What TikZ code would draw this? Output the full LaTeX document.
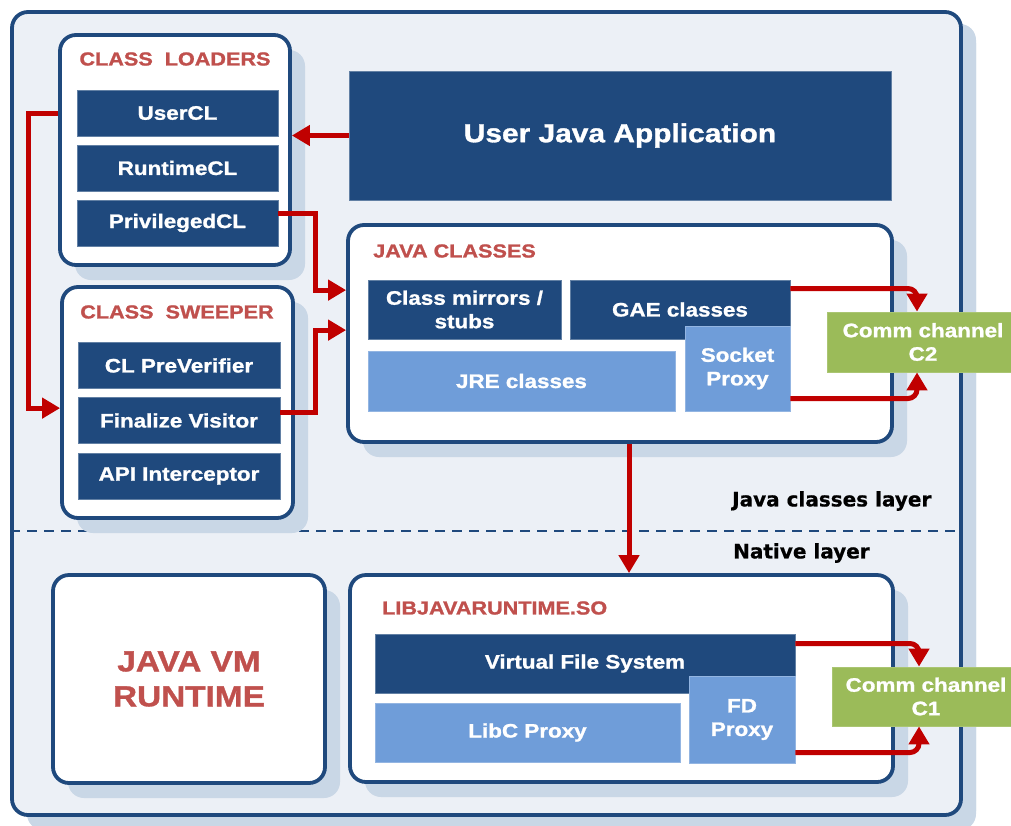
\documentclass[tikz,border=0pt]{standalone}
\usepackage{fontspec}
\usetikzlibrary{arrows.meta,shadows}
\newfontfamily\boxfont[FakeStretch=1.15, FakeBold=1.2]{Liberation Sans Bold}
\newfontfamily\layerfont[FakeBold=0.6]{DejaVu Sans Bold}

\definecolor{navy}{HTML}{1F497D}
\definecolor{paneblue}{HTML}{ECF0F6}
\definecolor{shade}{HTML}{C9D7E6}
\definecolor{titlered}{HTML}{C0504D}
\definecolor{wire}{HTML}{C00000}
\definecolor{skyblue}{HTML}{6F9DD9}
\definecolor{leaf}{HTML}{9BBB59}

\tikzset{
  shadowed/.style={drop shadow={shadow xshift=15pt, shadow yshift=-15pt, fill=shade, opacity=1}},
  panel/.style={draw=navy, line width=3.8pt, fill=white, rounded corners=16pt, inner sep=0pt, shadowed},
  bar/.style={fill=navy, draw=navy!70!white, line width=0.8pt, text=white, align=center, inner sep=0pt,
    font=\boxfont\fontsize{19.5}{23.5}\selectfont},
  litebar/.style={bar, fill=skyblue, draw=skyblue!75!white},
  chan/.style={bar, fill=leaf, draw=leaf!85!white},
  heading/.style={text=titlered, inner sep=0pt, font=\boxfont\fontsize{18.8}{21}\selectfont},
  layerlabel/.style={anchor=west, inner sep=0pt, font=\layerfont\fontsize{20}{24}\selectfont},
  link/.style={draw=wire, line width=5pt, -{Triangle[length=18pt,width=20pt]}},
}

\begin{document}
\begin{tikzpicture}[x=1pt, y=-1pt]
\useasboundingbox (0,0) rectangle (1011,825);

% outer frame
\node[panel, fill=paneblue, minimum width=949pt, minimum height=803pt,
  drop shadow={shadow xshift=15pt, shadow yshift=-12pt, fill=shade, opacity=1}] (frame) at (486.5,413.5) {};

% layer separator
\draw[navy, line width=2.5pt, dash pattern=on 10pt off 7pt] (frame.west |- 0,531) -- (frame.east |- 0,531);
\node[layerlabel] (jlayer) at (732,501) {Java classes layer};
\node[layerlabel] (nlayer) at (733,553) {Native layer};

% class loaders
\node[panel, minimum width=230pt, minimum height=230pt] (loaders) at (175,150) {};
\node[heading] (loadtitle) at (175,59) {CLASS~~LOADERS};
\node[bar, minimum width=201pt, minimum height=46pt] (usercl) at (177.5,113) {UserCL};
\node[bar, minimum width=201pt, minimum height=46pt] (runtimecl) at (177.5,168) {RuntimeCL};
\node[bar, minimum width=201pt, minimum height=46pt] (privcl) at (177.5,223) {PrivilegedCL};

% class sweeper
\node[panel, minimum width=231pt, minimum height=231pt] (sweeper) at (177.5,402.5) {};
\node[heading] (sweeptitle) at (177,312) {CLASS~~SWEEPER};
\node[bar, minimum width=202pt, minimum height=46pt] (preverifier) at (179,365.5) {CL PreVerifier};
\node[bar, minimum width=202pt, minimum height=46pt] (finalize) at (179,420.5) {Finalize Visitor};
\node[bar, minimum width=202pt, minimum height=46pt] (apiint) at (179,476) {API Interceptor};

% user application
\node[bar, minimum width=542pt, minimum height=129pt, font=\boxfont\fontsize{26}{31}\selectfont] (app) at (620,135.5) {User Java Application};

% java classes
\node[panel, minimum width=544pt, minimum height=217pt] (javacls) at (620,333.5) {};
\node[heading, anchor=west] (jctitle) at (373,251) {JAVA CLASSES};
\node[bar, minimum width=193pt, minimum height=59pt] (mirrors) at (464.5,309.5) {Class mirrors /\\stubs};
\node[bar, minimum width=220pt, minimum height=59pt] (gae) at (680,309.5) {GAE classes};
\node[litebar, minimum width=307pt, minimum height=60pt] (jre) at (521.5,381) {JRE classes};
\node[litebar, minimum width=105pt, minimum height=85pt] (socket) at (737.5,368.5) {Socket\\Proxy};
\node[chan, minimum width=192pt, minimum height=60pt] (c2) at (923,342) {Comm channel\\C2};

% java vm runtime
\node[panel, minimum width=272pt, minimum height=208pt, text=titlered, align=center,
  font=\boxfont\fontsize{29}{35}\selectfont] (javavm) at (189,679) {JAVA VM\\RUNTIME};

% libjavaruntime.so
\node[panel, minimum width=543pt, minimum height=207pt] (libjr) at (621.5,678.5) {};
\node[heading, anchor=west] (libtitle) at (382,608) {LIBJAVARUNTIME.SO};
\node[bar, minimum width=420pt, minimum height=59pt] (vfs) at (585,663.5) {Virtual File System};
\node[litebar, minimum width=305pt, minimum height=59pt] (libc) at (527.5,732.5) {LibC Proxy};
\node[litebar, minimum width=106pt, minimum height=87pt] (fdproxy) at (742,719.5) {FD\\Proxy};
\node[chan, minimum width=188pt, minimum height=59pt] (c1) at (926,696.5) {Comm channel\\C1};

% connectors
\draw[link] (app.west) -- (app.west -| loaders.east);
\draw[link] (usercl.west -| loaders.west) -- ++(-30,0) |- ([yshift=-123pt]sweeper.north west);
\draw[link] ([yshift=10pt]privcl.east) -- ++(37,0) |- ([yshift=-67pt]javacls.north west);
\draw[link] ([yshift=8pt]finalize.east) -- ++(35,0) |- ([yshift=-107pt]javacls.north west);
\draw[link] ([xshift=9pt]javacls.south) -- ([xshift=9pt]javacls.south |- libjr.north);
\draw[link, rounded corners=9pt] ([yshift=21pt]gae.east) -| ([xshift=-6pt]c2.north);
\draw[link, rounded corners=9pt] ([yshift=-30pt]socket.east) -| ([xshift=-6pt]c2.south);
\draw[link, rounded corners=9pt] ([yshift=20pt]vfs.east) -| ([xshift=-7pt]c1.north);
\draw[link, rounded corners=9pt] ([yshift=-33pt]fdproxy.east) -| ([xshift=-7pt]c1.south);
\end{tikzpicture}
\end{document}
